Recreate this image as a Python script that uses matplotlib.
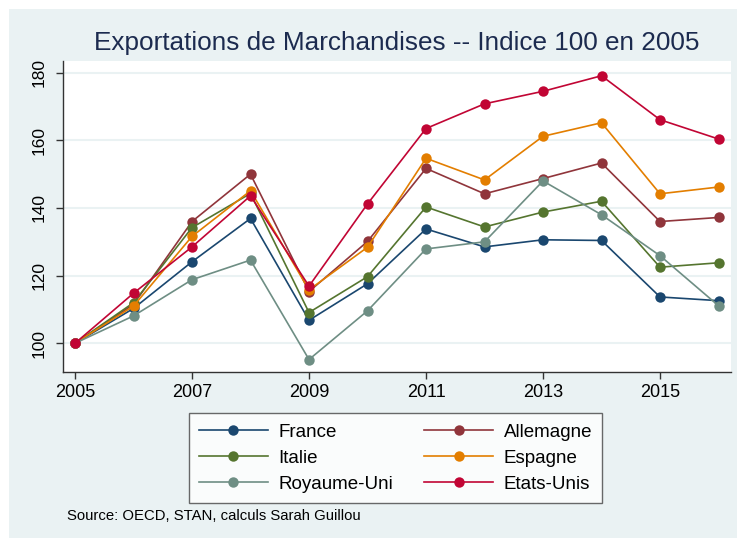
import matplotlib
matplotlib.use("Agg")
import matplotlib.pyplot as plt
from matplotlib.patches import Rectangle

plt.rcParams['font.family'] = ['Liberation Sans', 'DejaVu Sans']

years = [2005, 2006, 2007, 2008, 2009, 2010, 2011, 2012, 2013, 2014, 2015, 2016]

france = [100, 110.3, 124.1, 136.9, 106.8, 117.6, 133.8, 128.5, 130.6, 130.4, 113.7, 112.6]
allemagne = [100, 111.5, 136.0, 150.0, 115.3, 130.1, 151.7, 144.2, 148.7, 153.3, 136.0, 137.2]
italie = [100, 112.0, 134.2, 144.3, 109.1, 119.7, 140.3, 134.4, 138.8, 142.0, 122.5, 123.8]
espagne = [100, 111.0, 131.6, 145.1, 115.8, 128.4, 154.7, 148.3, 161.2, 165.2, 144.2, 146.2]
royaume_uni = [100, 108.1, 118.8, 124.6, 95.2, 109.6, 127.9, 130.0, 148.0, 138.0, 125.9, 111.1]
etats_unis = [100, 114.8, 128.5, 143.6, 116.9, 141.2, 163.5, 170.8, 174.5, 179.1, 166.1, 160.4]

series = [
    ("France", france, "#1a476f"),
    ("Allemagne", allemagne, "#90353b"),
    ("Italie", italie, "#55752f"),
    ("Espagne", espagne, "#e37e00"),
    ("Royaume-Uni", royaume_uni, "#6e8e84"),
    ("Etats-Unis", etats_unis, "#c10534"),
]

xticks = [2005, 2007, 2009, 2011, 2013, 2015]
yticks = [100, 120, 140, 160, 180]

W, H = 737, 538
bg = "#eaf2f3"
fig = plt.figure(figsize=(W / 100, H / 100), dpi=100)
fig.patch.set_facecolor("white")
# light background panel (graph region)
fig.patches.append(Rectangle((9 / W, 0), 1 - 9 / W, 1 - 9 / H, transform=fig.transFigure,
                             facecolor=bg, edgecolor="none", zorder=-10))

ax = fig.add_axes([63.3 / W, 1 - 371.7 / H, (730.5 - 63.3) / W, (371.7 - 60.7) / H])
ax.set_facecolor("white")

handles = {}
for name, vals, col in series:
    h, = ax.plot(years, vals, color=col, lw=1.2, marker="o", ms=7.5,
                 markeredgewidth=0, label=name, clip_on=False, zorder=3)
    handles[name] = h

ax.set_xlim(2004.8, 2016.205)
ax.set_ylim(91.6, 183.55)
ax.set_xticks(xticks)
ax.set_yticks(yticks)
ax.set_yticklabels([str(v) for v in yticks], rotation=90, va="center")
ax.grid(axis="y", color=bg, lw=1.5)
ax.set_axisbelow(True)

for s in ["top", "right"]:
    ax.spines[s].set_visible(False)
for s in ["left", "bottom"]:
    ax.spines[s].set_color("#333333")
    ax.spines[s].set_linewidth(1.0)
ax.tick_params(axis="x", length=5, width=1, color="#333333", labelsize=13, pad=4)
ax.tick_params(axis="y", length=5, width=1, color="#333333", labelsize=12.5, pad=7)

fig.text(396.5 / W, 1 - 50 / H, "Exportations de Marchandises -- Indice 100 en 2005",
         ha="center", va="baseline", fontsize=18.8, color="#1c2b4f")

order = ["France", "Italie", "Royaume-Uni", "Allemagne", "Espagne", "Etats-Unis"]
leg = fig.legend([handles[n] for n in order], order, ncol=2, loc="upper left",
                 bbox_to_anchor=(189.3 / W, 1 - 413.3 / H), borderaxespad=0,
                 fontsize=13.5, frameon=True, fancybox=False, handlelength=3.7,
                 handleheight=1.0, handletextpad=0.55, columnspacing=1.65,
                 labelspacing=0.38, borderpad=0.5, numpoints=1)
leg.get_frame().set_edgecolor("#444444")
leg.get_frame().set_linewidth(1.0)
leg.get_frame().set_facecolor("white")

fig.text(67 / W, 1 - 519.5 / H, "Source: OECD, STAN, calculs Sarah Guillou",
         ha="left", va="baseline", fontsize=10.7, color="black")

fig.savefig("out.png", dpi=100, facecolor=fig.get_facecolor())
